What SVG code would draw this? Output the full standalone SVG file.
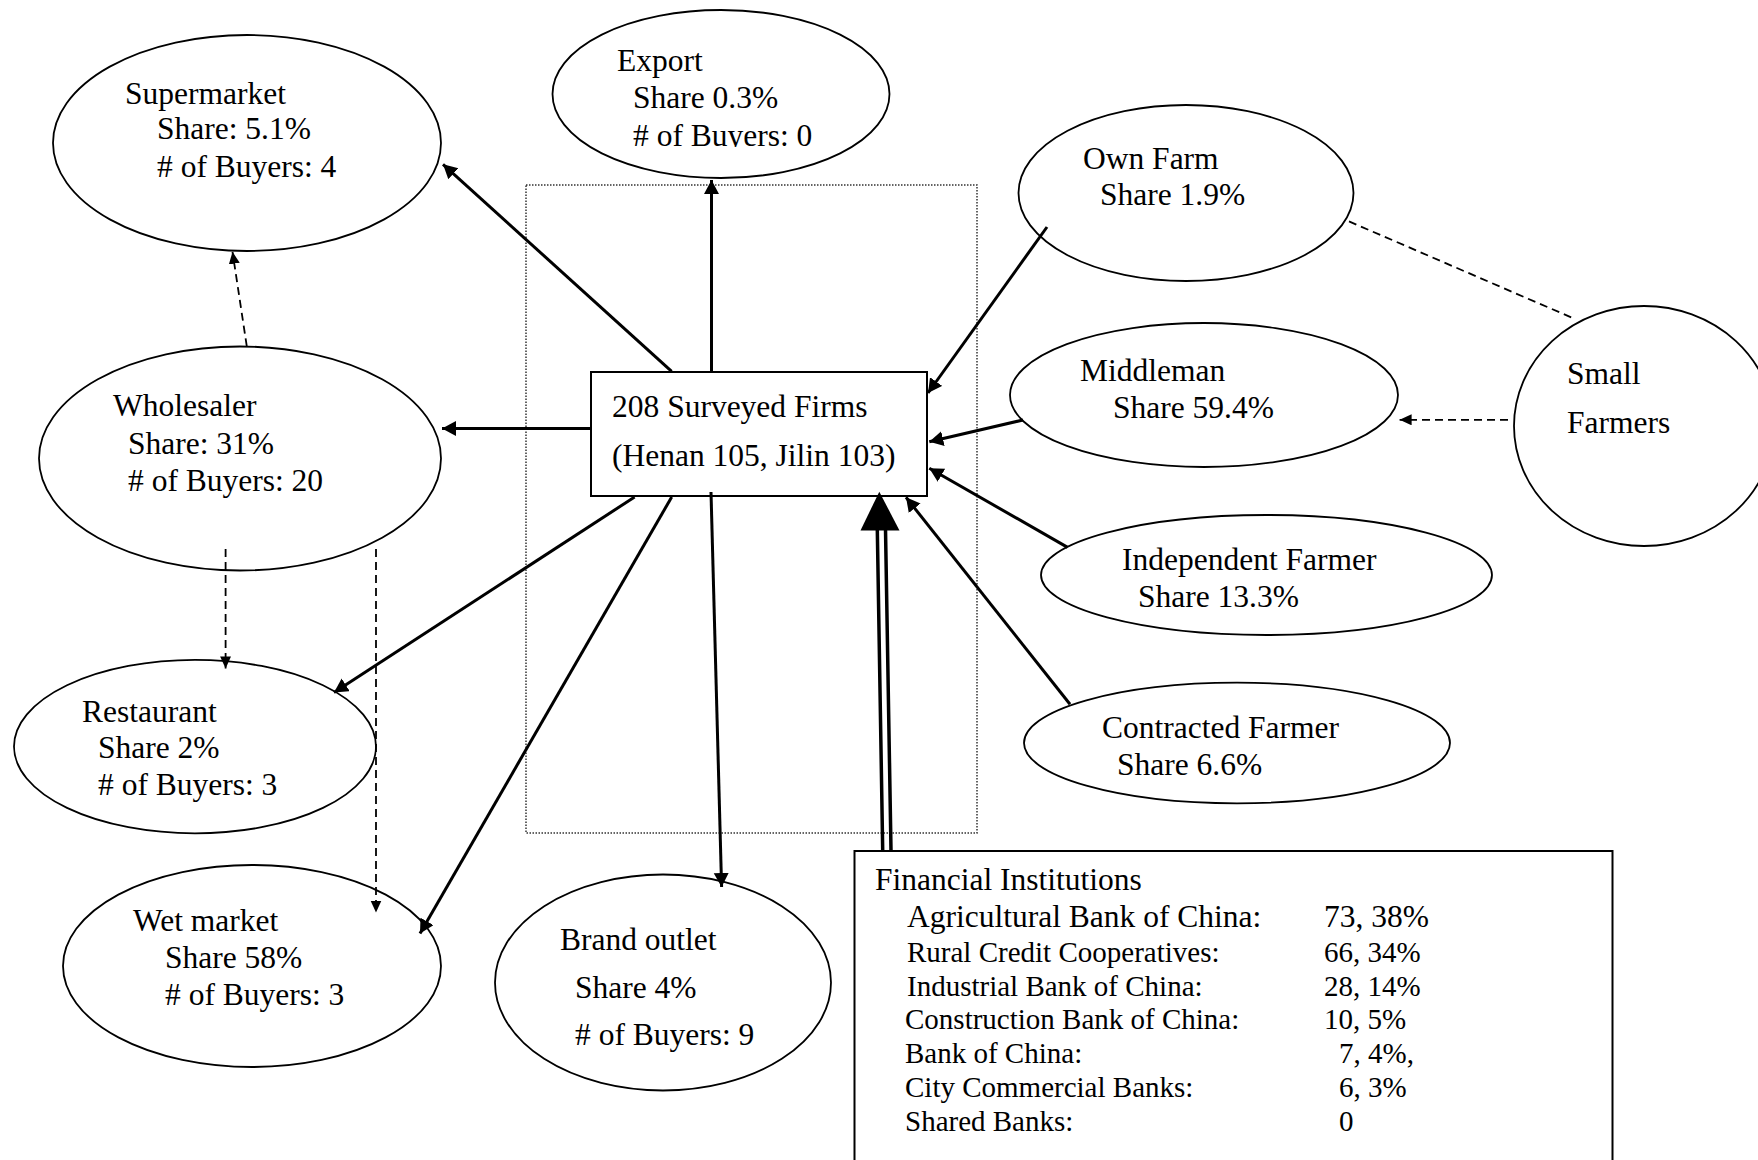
<svg xmlns="http://www.w3.org/2000/svg" width="1758" height="1160" viewBox="0 0 1758 1160">
<style>
text{font-family:"Liberation Serif","Times New Roman",serif;font-size:31.5px;fill:#000}
.sm{font-size:29px}
.node{fill:#fff;stroke:#000;stroke-width:1.8}
.box{fill:#fff;stroke:#000;stroke-width:2}
.solid{fill:none;stroke:#000;stroke-width:3}
.dash{fill:none;stroke:#000;stroke-width:1.8;stroke-dasharray:8 5}
.dot{fill:none;stroke:#333;stroke-width:1.5;stroke-dasharray:1.5 1.5}
</style>
<defs>
<marker id="ah" markerUnits="userSpaceOnUse" markerWidth="16" markerHeight="16" refX="14" refY="7.5" orient="auto"><path d="M0,0 L14,7.5 L0,15 z" fill="#000"/></marker>
<marker id="ahs" markerUnits="userSpaceOnUse" markerWidth="13" markerHeight="12" refX="12" refY="5.5" orient="auto"><path d="M0,0 L12,5.5 L0,11 z" fill="#000"/></marker>
<clipPath id="exclip"><rect x="600" y="0" width="300" height="147"/></clipPath>
</defs>
<rect width="1758" height="1160" fill="#fff"/>
<rect class="dot" x="526" y="185" width="451" height="648"/>

<g id="supermarket"><ellipse class="node" cx="247" cy="143" rx="194" ry="108"/>
<text x="125" y="104">Supermarket</text><text x="157" y="139">Share: 5.1%</text><text x="157" y="177"># of Buyers: 4</text></g>

<g id="export"><ellipse class="node" cx="721" cy="94" rx="168.5" ry="84"/>
<text x="617" y="71">Export</text><text x="633" y="108">Share 0.3%</text><text x="633" y="146" clip-path="url(#exclip)"># of Buyers: 0</text></g>

<g id="wholesaler"><ellipse class="node" cx="240" cy="458.5" rx="201" ry="112"/>
<text x="113" y="416">Wholesaler</text><text x="128" y="454">Share: 31%</text><text x="128" y="491"># of Buyers: 20</text></g>

<g id="restaurant"><ellipse class="node" cx="195" cy="746.6" rx="181" ry="86.7"/>
<text x="82" y="722">Restaurant</text><text x="98" y="758">Share 2%</text><text x="98" y="795"># of Buyers: 3</text></g>

<g id="wetmarket"><ellipse class="node" cx="252" cy="966" rx="189" ry="101"/>
<text x="133" y="931">Wet market</text><text x="165" y="968">Share 58%</text><text x="165" y="1005"># of Buyers: 3</text></g>

<g id="brandoutlet"><ellipse class="node" cx="663" cy="982.5" rx="168" ry="108"/>
<text x="560" y="950">Brand outlet</text><text x="575" y="998">Share 4%</text><text x="575" y="1045"># of Buyers: 9</text></g>

<g id="ownfarm"><ellipse class="node" cx="1186" cy="193" rx="167.5" ry="88"/>
<text x="1083" y="169">Own Farm</text><text x="1100" y="205">Share 1.9%</text></g>

<g id="middleman"><ellipse class="node" cx="1204" cy="395" rx="194" ry="72"/>
<text x="1080" y="381">Middleman</text><text x="1113" y="418">Share 59.4%</text></g>

<g id="independent"><ellipse class="node" cx="1266.5" cy="575" rx="225.5" ry="60"/>
<text x="1122" y="570">Independent Farmer</text><text x="1138" y="607">Share 13.3%</text></g>

<g id="contracted"><ellipse class="node" cx="1237" cy="743" rx="213" ry="60.3"/>
<text x="1102" y="738">Contracted Farmer</text><text x="1117" y="775">Share 6.6%</text></g>

<g id="smallfarmers"><ellipse class="node" cx="1644" cy="426" rx="130" ry="120"/>
<text x="1567" y="384">Small</text><text x="1567" y="433">Farmers</text></g>

<g id="firms"><rect class="box" x="591" y="372" width="336" height="124"/>
<text x="612" y="417">208 Surveyed Firms</text><text x="612" y="466">(Henan 105, Jilin 103)</text></g>

<g id="financial"><rect class="box" x="854.5" y="851" width="758" height="330"/>
<text x="875" y="890">Financial Institutions</text>
<text x="907" y="927">Agricultural Bank of China:</text><text x="1324" y="927">73, 38%</text>
<text class="sm" x="907" y="962">Rural Credit Cooperatives:</text><text class="sm" x="1324" y="962">66, 34%</text>
<text class="sm" x="907" y="996">Industrial Bank of China:</text><text class="sm" x="1324" y="996">28, 14%</text>
<text class="sm" x="905" y="1029">Construction Bank of China:</text><text class="sm" x="1324" y="1029">10, 5%</text>
<text class="sm" x="905" y="1063">Bank of China:</text><text class="sm" x="1339" y="1063">7, 4%,</text>
<text class="sm" x="905" y="1097">City Commercial Banks:</text><text class="sm" x="1339" y="1097">6, 3%</text>
<text class="sm" x="905" y="1131">Shared Banks:</text><text class="sm" x="1339" y="1131">0</text></g>

<g id="connectors">
<path class="solid" marker-end="url(#ah)" d="M671.6,371.4 L443,164.3"/>
<path class="solid" marker-end="url(#ah)" d="M711.5,372 L711.5,180"/>
<path class="solid" marker-end="url(#ah)" d="M591,428.5 L442,428.5"/>
<path class="solid" marker-end="url(#ah)" d="M634.6,497 L334,692.5"/>
<path class="solid" marker-end="url(#ah)" d="M671.7,497 L420,933.5"/>
<path class="solid" marker-end="url(#ah)" d="M711,492 L721.6,887"/>
<path class="solid" marker-end="url(#ah)" d="M1047,227 L928,393"/>
<path class="solid" marker-end="url(#ah)" d="M1023,420 L929.3,441.8"/>
<path class="solid" marker-end="url(#ah)" d="M1067.6,547.4 L929.3,468.2"/>
<path class="solid" marker-end="url(#ah)" d="M1070,704.3 L906,497.3"/>
<path class="dash" marker-end="url(#ahs)" d="M246.8,346.4 L232.5,251.8"/>
<path class="dash" marker-end="url(#ahs)" d="M225.6,549 L225.6,668.4"/>
<path class="dash" marker-end="url(#ahs)" d="M376,549 L376,912.5"/>
<path class="dash" marker-end="url(#ahs)" d="M1508,419.8 L1399.6,419.8"/>
<path class="dash" d="M1349,221.4 L1575,319"/>
<path fill="none" stroke="#000" stroke-width="3.5" d="M882.7,850 L877.3,529 M891,850 L885.5,529"/>
<polygon points="879.3,491.7 860.5,530.5 899.5,530.5" fill="#000"/>
</g>
</svg>
